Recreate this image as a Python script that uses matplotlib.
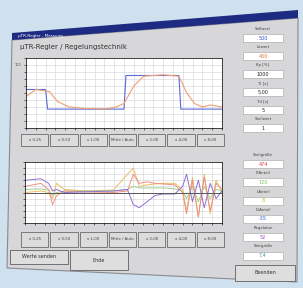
import matplotlib
matplotlib.use('Agg')
import matplotlib.pyplot as plt
from matplotlib.patches import Polygon, Rectangle

# upper chart: setpoint (blue) and actual value (orange), 0..100
t_set = [0, 10, 11, 50, 51, 78, 79, 100]
y_set = [55, 55, 27, 27, 75, 75, 27, 27]
t_act = [0, 5, 12, 16, 22, 30, 40, 46, 50, 55, 60, 70, 78, 82, 86, 90, 94, 100]
y_act = [45, 55, 52, 38, 30, 28, 27, 30, 35, 60, 74, 76, 74, 50, 35, 30, 33, 30]

# lower chart: controller components, -100..100
t_low = [0, 8, 12, 14, 16, 20, 30, 45, 52, 55, 58, 62, 66, 70, 76, 80, 82, 85, 88, 91, 94, 97, 100]
y_red = [20, 30, 10, -40, -10, 5, 2, 0, 5, 60, 30, 35, 30, 28, 25, 0, -70, 40, -80, 50, -60, 30, 10]
y_purple = [40, 45, 30, 5, 10, 0, 2, 5, 10, -40, -50, -30, -10, -5, -5, 20, 60, -30, 40, -50, 30, -20, 5]
y_gold = [0, 5, 0, -20, 30, 10, 5, 8, 60, 80, 20, 25, 28, 30, 30, 10, -60, 50, -80, 60, -70, 40, 0]
y_green = [10, 12, 8, -10, 0, 5, 5, 5, 10, 20, 15, 15, 15, 15, 12, 5, -20, 20, -30, 20, -20, 10, 5]

upper_buttons = ["x 0,25", "x 0,50", "x 1,00", "Mitte / Auto", "x 2,00", "x 4,00", "x 8,00"]
lower_buttons = ["x 0,25", "x 0,50", "x 1,00", "Mitte / Auto", "x 2,00", "x 4,00", "x 8,00"]
params_top = ["Sollwert", "Istwert", "Kp [%]", "Ti [s]", "Td [s]", "Stellwert"]
values_top = ["500", "450", "1000", "5,00", "5", "1"]
colors_top = ["#3a4ad0", "#e06a2a", "#222222", "#222222", "#222222", "#222222"]
params_bot = ["Stellgröße", "P-Anteil", "I-Anteil", "D-Anteil", "Regelabw.", "Störgröße"]
values_bot = ["474", "120", "8", "-35", "52", "7,4"]
colors_bot = ["#e03a3a", "#7ac060", "#d8b030", "#3a60d0", "#a040c0", "#40a0a0"]

W, H = 303, 288
fig = plt.figure(figsize=(W / 100, H / 100), dpi=100)
bg = fig.add_axes([0, 0, 1, 1])
bg.set_xlim(0, W)
bg.set_ylim(H, 0)
bg.axis('off')
bg.add_patch(Rectangle((0, 0), W, H, color="#cfe1ee"))
# window body and title bar (slight perspective)
bg.add_patch(Polygon([(12, 40), (298, 18), (297, 282), (7, 268)], closed=True,
                     facecolor="#d7d7d9", edgecolor="#8a8a90", lw=0.8))
bg.add_patch(Polygon([(12, 33), (298, 10), (298, 18), (12, 40)], closed=True,
                     facecolor="#1d2c82", edgecolor="none"))
bg.text(18, 38, "µTR-Regler - Messung", fontsize=3, color="white", va="bottom")
bg.text(20, 47, "µTR-Regler / Regelungstechnik", fontsize=5, color="#333333", va="center")


def px_axes(x0, y0, x1, y1):
    return fig.add_axes([x0 / W, 1 - y1 / H, (x1 - x0) / W, (y1 - y0) / H])


def buttons(labels, x0, x1, y0, y1):
    step = (x1 - x0) / len(labels)
    for i, lab in enumerate(labels):
        bx = x0 + i * step
        bg.add_patch(Rectangle((bx + 1, y0), step - 2, y1 - y0, facecolor="#dcdcdc",
                               edgecolor="#6a6a6a", lw=0.6))
        bg.text(bx + step / 2, (y0 + y1) / 2, lab, fontsize=2.8, ha="center",
                va="center", color="#444444")


# upper chart
ax1 = px_axes(26, 58, 222, 128)
ax1.plot(t_set, y_set, color="#5a6ad8", lw=0.8)
ax1.plot(t_act, y_act, color="#f0a070", lw=0.8)
ax1.set_xlim(0, 100)
ax1.set_ylim(0, 100)
ax1.set_xticks(range(0, 101, 5))
ax1.set_yticks(range(0, 101, 10))
ax1.grid(True, color="#d0d0d8", lw=0.4)
ax1.tick_params(labelbottom=False, labelleft=False, length=1.5, width=0.4)
for s in ax1.spines.values():
    s.set_linewidth(0.5)
bg.text(21, 66, "100", fontsize=2.5, color="#444444", ha="right")
buttons(upper_buttons, 20, 225, 134, 146)

# lower chart
ax2 = px_axes(25, 162, 222, 223)
ax2.plot(t_low, y_gold, color="#e8c060", lw=0.7)
ax2.plot(t_low, y_green, color="#a0d090", lw=0.7)
ax2.plot(t_low, y_red, color="#f09080", lw=0.7)
ax2.plot(t_low, y_purple, color="#9070d0", lw=0.7)
ax2.axhline(0, color="#555555", lw=0.7)
ax2.set_xlim(0, 100)
ax2.set_ylim(-100, 100)
ax2.set_xticks(range(0, 101, 5))
ax2.set_yticks(range(-100, 101, 20))
ax2.grid(True, color="#d0d0d8", lw=0.4)
ax2.tick_params(labelbottom=False, labelleft=False, length=1.5, width=0.4)
for s in ax2.spines.values():
    s.set_linewidth(0.5)
buttons(lower_buttons, 20, 225, 232, 247)

# bottom buttons
for (x0, y0, x1, y1, lab) in [(10, 250, 68, 264, "Werte senden"),
                              (70, 250, 128, 270, "Ende"),
                              (235, 265, 295, 281, "Beenden")]:
    bg.add_patch(Rectangle((x0, y0), x1 - x0, y1 - y0, facecolor="#dedede",
                           edgecolor="#707070", lw=0.7))
    bg.text((x0 + x1) / 2, (y0 + y1) / 2, lab, fontsize=3.5, ha="center",
            va="center", color="#333333")

# right panel value boxes
for i, (lab, val, col) in enumerate(zip(params_top, values_top, colors_top)):
    y = 29 + i * 18
    bg.text(263, y, lab, fontsize=2.8, ha="center", va="center", color="#444444")
    bg.add_patch(Rectangle((243, y + 5), 40, 8, facecolor="white", edgecolor="#a0a0a0", lw=0.4))
    bg.text(263, y + 9, val, fontsize=3.5, ha="center", va="center", color=col)

for i, (lab, val, col) in enumerate(zip(params_bot, values_bot, colors_bot)):
    y = 155 + i * 18.3
    bg.text(263, y, lab, fontsize=2.8, ha="center", va="center", color="#444444")
    bg.add_patch(Rectangle((243, y + 5), 40, 8, facecolor="white", edgecolor="#a0a0a0", lw=0.4))
    bg.text(263, y + 9, val, fontsize=3.5, ha="center", va="center", color=col)

fig.savefig("out.png", dpi=100)
